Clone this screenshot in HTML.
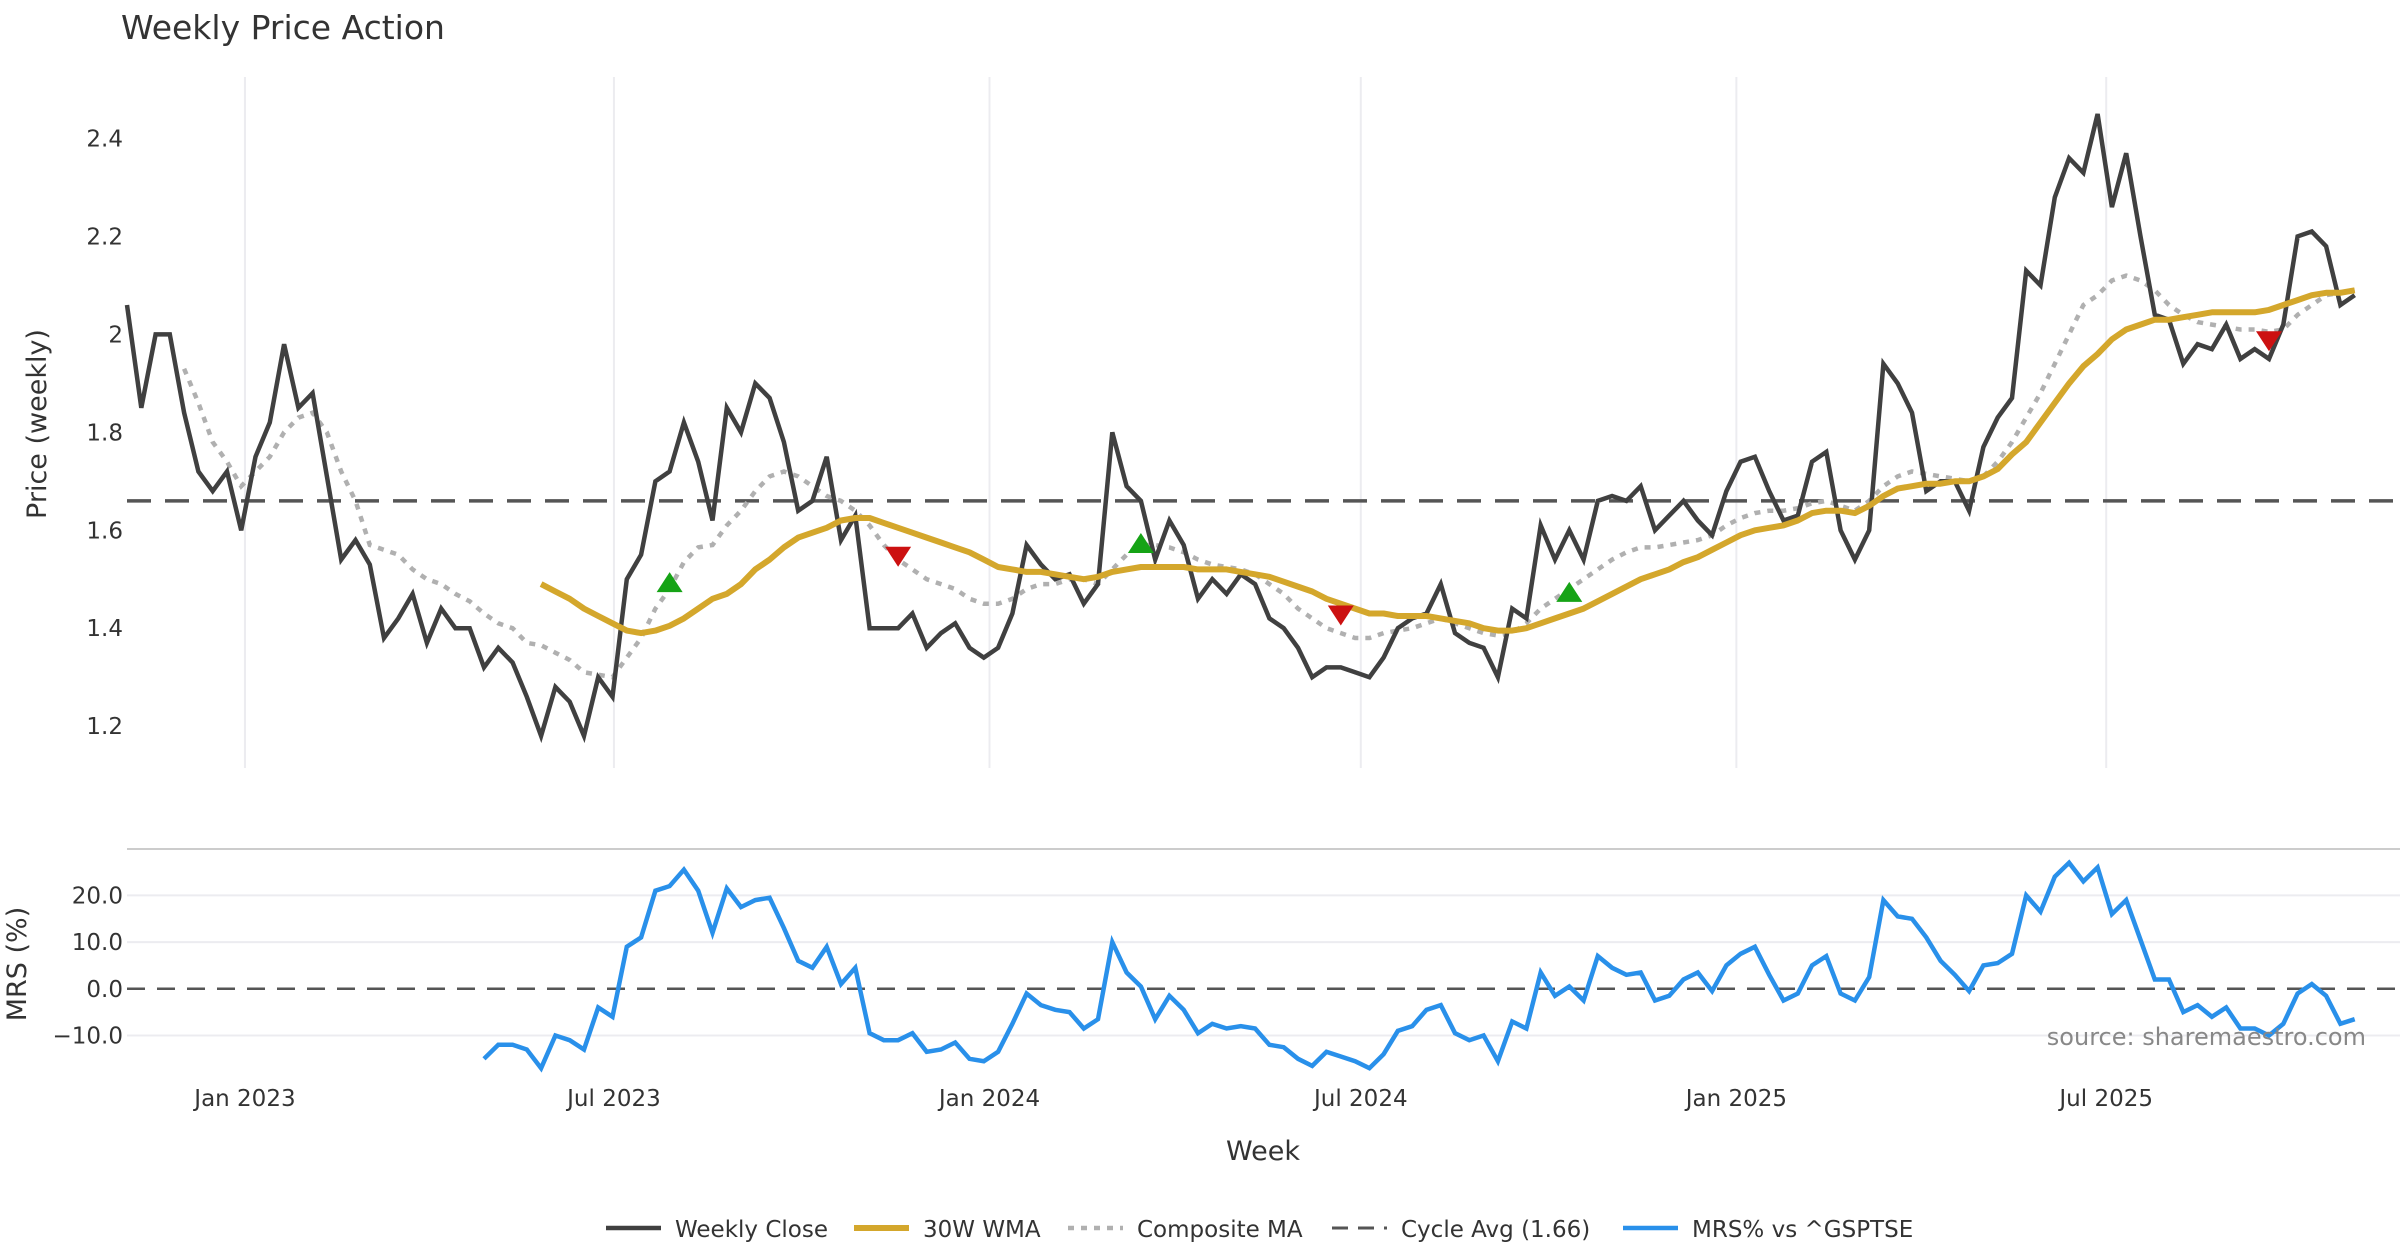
<!DOCTYPE html>
<html><head><meta charset="utf-8"><style>
html,body{margin:0;padding:0;background:#fff;}
svg{display:block;font-family:"DejaVu Sans","Liberation Sans",sans-serif;}
</style></head><body>
<svg id="chart" width="2400" height="1260" viewBox="0 0 2400 1260" xmlns="http://www.w3.org/2000/svg">
<text x="121" y="39" font-size="33" fill="#333">Weekly Price Action</text>
<g id="grid"></g><g id="series"></g><g id="axes"></g>
<text transform="translate(46,424) rotate(-90)" text-anchor="middle" font-size="27" fill="#333">Price (weekly)</text>
<text transform="translate(26,964) rotate(-90)" text-anchor="middle" font-size="27" fill="#333">MRS (%)</text>
<text x="1263" y="1160" text-anchor="middle" font-size="27" fill="#333">Week</text>
<text x="2366" y="1045" text-anchor="end" font-size="24" fill="#888">source: sharemaestro.com</text>
<g id="legend"></g>
</svg>
<script>
const closeVals=[2.06,1.85,2.00,2.00,1.84,1.72,1.68,1.72,1.60,1.75,1.82,1.98,1.85,1.88,1.71,1.54,1.58,1.53,1.38,1.42,1.47,1.37,1.44,1.40,1.40,1.32,1.36,1.33,1.26,1.18,1.28,1.25,1.18,1.30,1.26,1.50,1.55,1.70,1.72,1.82,1.74,1.62,1.85,1.80,1.90,1.87,1.78,1.64,1.66,1.75,1.58,1.63,1.40,1.40,1.40,1.43,1.36,1.39,1.41,1.36,1.34,1.36,1.43,1.57,1.53,1.50,1.51,1.45,1.49,1.80,1.69,1.66,1.54,1.62,1.57,1.46,1.50,1.47,1.51,1.49,1.42,1.40,1.36,1.30,1.32,1.32,1.31,1.30,1.34,1.40,1.42,1.43,1.49,1.39,1.37,1.36,1.30,1.44,1.42,1.61,1.54,1.60,1.54,1.66,1.67,1.66,1.69,1.60,1.63,1.66,1.62,1.59,1.68,1.74,1.75,1.68,1.62,1.63,1.74,1.76,1.60,1.54,1.60,1.94,1.90,1.84,1.68,1.70,1.70,1.64,1.77,1.83,1.87,2.13,2.10,2.28,2.36,2.33,2.45,2.26,2.37,2.20,2.04,2.03,1.94,1.98,1.97,2.02,1.95,1.97,1.95,2.02,2.20,2.21,2.18,2.06,2.08];
const wmaStart=29;
const wmaVals=[1.49,1.475,1.46,1.44,1.425,1.41,1.395,1.39,1.395,1.405,1.42,1.44,1.46,1.47,1.49,1.52,1.54,1.565,1.585,1.595,1.605,1.62,1.625,1.625,1.615,1.605,1.595,1.585,1.575,1.565,1.555,1.54,1.525,1.52,1.515,1.515,1.51,1.505,1.50,1.505,1.515,1.52,1.525,1.525,1.525,1.525,1.52,1.52,1.52,1.515,1.51,1.505,1.495,1.485,1.475,1.46,1.45,1.44,1.43,1.43,1.425,1.425,1.425,1.42,1.415,1.41,1.40,1.395,1.395,1.40,1.41,1.42,1.43,1.44,1.455,1.47,1.485,1.50,1.51,1.52,1.535,1.545,1.56,1.575,1.59,1.60,1.605,1.61,1.62,1.635,1.64,1.64,1.635,1.65,1.67,1.685,1.69,1.695,1.695,1.70,1.70,1.71,1.725,1.755,1.78,1.82,1.86,1.90,1.935,1.96,1.99,2.01,2.02,2.03,2.03,2.035,2.04,2.045,2.045,2.045,2.045,2.05,2.06,2.07,2.08,2.085,2.085,2.09];
const compStart=4;
const compVals=[1.93,1.86,1.78,1.74,1.69,1.72,1.75,1.80,1.83,1.84,1.80,1.72,1.66,1.57,1.56,1.55,1.52,1.50,1.49,1.47,1.455,1.43,1.41,1.40,1.37,1.365,1.35,1.335,1.31,1.305,1.30,1.34,1.38,1.44,1.48,1.535,1.565,1.57,1.61,1.64,1.68,1.71,1.72,1.71,1.69,1.67,1.66,1.64,1.61,1.57,1.54,1.52,1.50,1.49,1.48,1.46,1.45,1.45,1.46,1.48,1.49,1.49,1.50,1.50,1.49,1.52,1.55,1.57,1.57,1.565,1.555,1.54,1.53,1.525,1.52,1.51,1.49,1.47,1.44,1.42,1.40,1.39,1.38,1.38,1.39,1.395,1.40,1.41,1.42,1.41,1.40,1.39,1.385,1.39,1.41,1.44,1.46,1.48,1.50,1.52,1.54,1.555,1.565,1.565,1.57,1.575,1.58,1.59,1.61,1.625,1.635,1.64,1.64,1.645,1.655,1.66,1.65,1.64,1.66,1.69,1.71,1.72,1.715,1.71,1.705,1.70,1.71,1.74,1.78,1.83,1.88,1.94,2.00,2.06,2.08,2.11,2.12,2.11,2.09,2.06,2.04,2.025,2.02,2.015,2.01,2.01,2.005,2.01,2.04,2.06,2.08,2.085,2.09];
const cycleAvg=1.66;
const mrsStart=25;
const mrsVals=[-15,-12,-12,-13,-17,-10,-11,-13,-4,-6,9,11,21,22,25.5,21,12,21.5,17.5,19,19.5,13,6,4.5,9,1,4.5,-9.5,-11,-11,-9.5,-13.5,-13,-11.5,-15,-15.5,-13.5,-7.5,-1,-3.5,-4.5,-5,-8.5,-6.5,10,3.5,0.5,-6.5,-1.5,-4.5,-9.5,-7.5,-8.5,-8,-8.5,-12,-12.5,-15,-16.5,-13.5,-14.5,-15.5,-17,-14,-9,-8,-4.5,-3.5,-9.5,-11,-10,-15.5,-7,-8.5,3.5,-1.5,0.5,-2.5,7,4.5,3,3.5,-2.5,-1.5,2,3.5,-0.5,5,7.5,9,3,-2.5,-1,5,7,-1,-2.5,2.5,19,15.5,15,11,6,3,-0.5,5,5.5,7.5,20,16.5,24,27,23,26,16,19,10.5,2,2,-5,-3.5,-6,-4,-8.5,-8.5,-10,-7.5,-1,1,-1.5,-7.5,-6.5];
const upSignals=[[38,1.49],[71,1.57],[101,1.47]];
const downSignals=[[54,1.55],[85,1.43],[150,1.99]];
const priceTicks=[1.2,1.4,1.6,1.8,2,2.2,2.4];
const priceTickLabels=["1.2","1.4","1.6","1.8","2","2.2","2.4"];
const mrsTicks=[20,10,0,-10];
const mrsTickLabels=["20.0","10.0","0.0","\u221210.0"];
const monthPos=[8.26,34.1,60.4,86.4,112.7,138.6];
const monthLabels=["Jan 2023","Jul 2023","Jan 2024","Jul 2024","Jan 2025","Jul 2025"];

const NS="http://www.w3.org/2000/svg";
const X=i=>127+14.28*i;
const YP=v=>138.5+(2.4-v)*489.7;
const YM=v=>988.8-4.67*v;
function mk(parent,tag,attrs){const e=document.createElementNS(NS,tag);for(const k in attrs)e.setAttribute(k,attrs[k]);document.getElementById(parent).appendChild(e);return e;}
function pts(vals,start,Y){return vals.map((v,k)=>X(start+k).toFixed(1)+","+Y(v).toFixed(1)).join(" ");}

monthPos.forEach((m,k)=>{
  const g=mk('grid','line',{x1:X(m),x2:X(m),y1:77,y2:768,stroke:'#ececf0','stroke-width':2});
  
  
  const t=mk('axes','text',{x:X(m),y:1106,'text-anchor':'middle','font-size':23,fill:'#333'});
  t.textContent=monthLabels[k];
  
  
});
priceTicks.forEach((v,k)=>{
  const t=mk('axes','text',{x:123,y:YP(v)+8,'text-anchor':'end','font-size':23,fill:'#333'});
  t.textContent=priceTickLabels[k];
  
  
});
mrsTicks.forEach((v,k)=>{
  if(v!==0){const g=mk('grid','line',{x1:127,x2:2400,y1:YM(v),y2:YM(v),stroke:'#ececf0','stroke-width':2});
  
  }
  const t=mk('axes','text',{x:123,y:YM(v)+8,'text-anchor':'end','font-size':23,fill:'#333'});
  t.textContent=mrsTickLabels[k];
  
  
});
const div=mk('grid','line',{x1:127,x2:2400,y1:849,y2:849,stroke:'#cccccc','stroke-width':2});



const cyc=mk('series','line',{x1:127,x2:2400,y1:YP(cycleAvg),y2:YP(cycleAvg),stroke:'#555','stroke-width':3.5,'stroke-dasharray':'24 14'});


const z=mk('series','line',{x1:127,x2:2400,y1:YM(0),y2:YM(0),stroke:'#555','stroke-width':2.5,'stroke-dasharray':'18 12'});


const comp=mk('series','polyline',{points:pts(compVals,compStart,YP),fill:'none',stroke:'#b0b0b0','stroke-width':4.5,'stroke-dasharray':'6 7'});


const cl=mk('series','polyline',{points:pts(closeVals,0,YP),fill:'none',stroke:'#404040','stroke-width':4.5,'stroke-linejoin':'miter'});


const wma=mk('series','polyline',{points:pts(wmaVals,wmaStart,YP),fill:'none',stroke:'#d4a72c','stroke-width':6,'stroke-linejoin':'round'});


const mrs=mk('series','polyline',{points:pts(mrsVals,mrsStart,YM),fill:'none',stroke:'#2990ea','stroke-width':4.5});


upSignals.forEach(s=>{const x=X(s[0]),y=YP(s[1]);
  const p=mk('series','polygon',{points:`${x-13},${y+8} ${x+13},${y+8} ${x},${y-12}`,fill:'#16a316'});
  
  });
downSignals.forEach(s=>{const x=X(s[0]),y=YP(s[1]);
  const p=mk('series','polygon',{points:`${x-13},${y-8} ${x+13},${y-8} ${x},${y+12}`,fill:'#cc1111'});
  
  });

const leg=[["Weekly Close","#404040",4.5,"",606],["30W WMA","#d4a72c",6,"",854],["Composite MA","#b0b0b0",4.5,"6 7",1068],["Cycle Avg (1.66)","#555",3,"16 10",1332],["MRS% vs ^GSPTSE","#2990ea",4.5,"",1623]];
leg.forEach(l=>{
  const ln=mk('legend','line',{x1:l[4],x2:l[4]+55,y1:1228,y2:1228,stroke:l[1],'stroke-width':l[2],'stroke-dasharray':l[3]});
  
  
  const t=mk('legend','text',{x:l[4]+69,y:1237,'font-size':23,fill:'#333'});
  t.textContent=l[0];
  
  
});
</script>
</body></html>
